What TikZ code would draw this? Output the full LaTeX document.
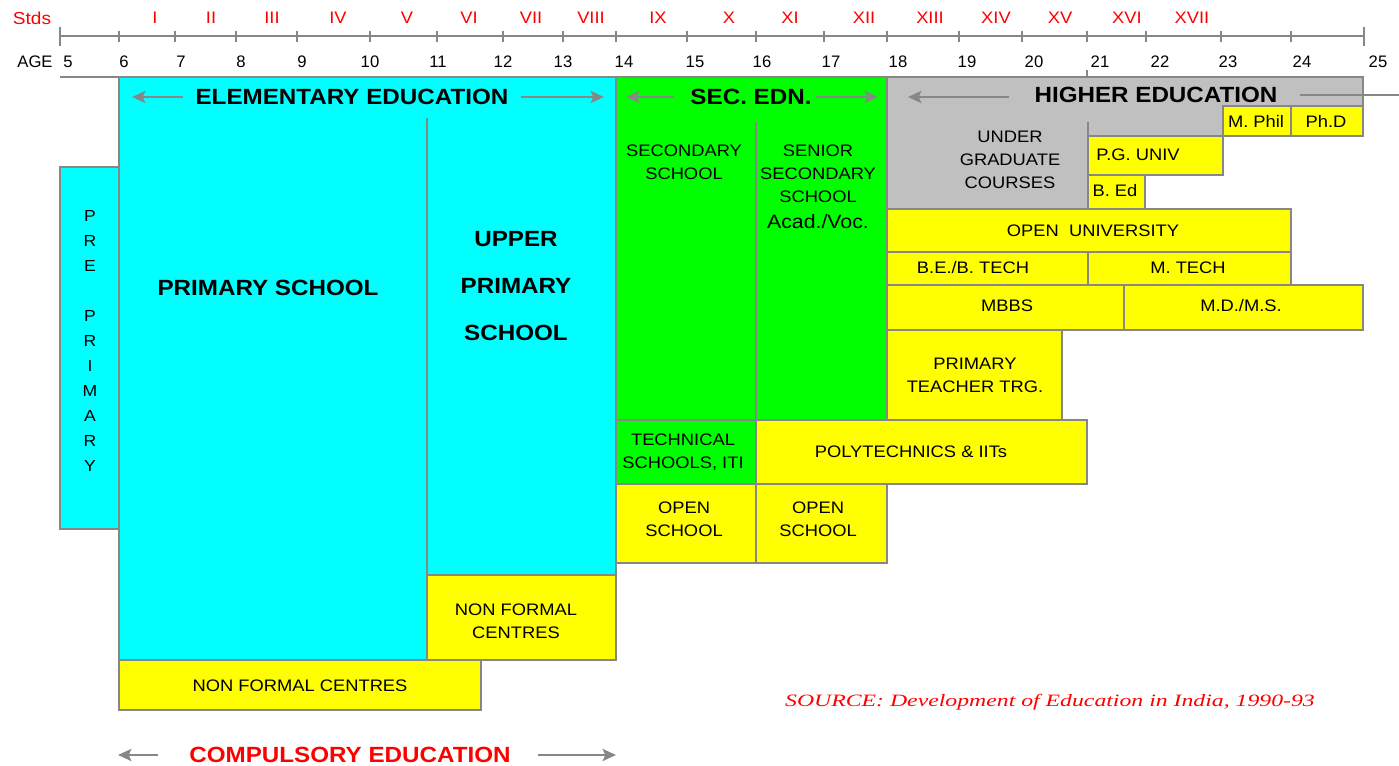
\documentclass[tikz,border=0pt]{standalone}
\usepackage{fontspec}
\setmainfont{Liberation Sans}
\newfontfamily\rf[FakeStretch=1.1]{Liberation Sans}
\newfontfamily\srcfont[FakeStretch=1.37]{Liberation Serif}
\usetikzlibrary{arrows.meta}
\definecolor{cy}{HTML}{00FFFF}
\definecolor{gr}{HTML}{00FF00}
\definecolor{ye}{HTML}{FFFF00}
\definecolor{lg}{HTML}{C0C0C0}
\definecolor{bord}{HTML}{878787}
\definecolor{rd}{HTML}{FF0000}
\tikzset{
  edge/.style={draw=bord, line width=1.5pt},
  cbox/.style={edge, fill=cy},
  gbox/.style={edge, fill=gr},
  ybox/.style={edge, fill=ye},
  hbox/.style={edge, fill=lg},
  sep/.style={draw=bord, line width=1.5pt},
  txt/.style={font=\rf\fontsize{12.5}{17.25}\selectfont, align=center, inner sep=0pt},
  hdr/.style={font=\rf\bfseries\fontsize{16.5}{20}\selectfont, align=center, inner sep=0pt},
  arr/.style={draw=bord, line width=2pt, -{Stealth[length=10pt,width=9pt,inset=2pt]}},
  axis/.style={draw=bord, line width=1.2pt},
  rom/.style={font=\rf\fontsize{12.5}{15}\selectfont, text=rd, inner sep=0pt},
  agelbl/.style={font=\fontsize{12.5}{15}\selectfont, inner sep=0pt},
}
\begin{document}
\begin{tikzpicture}[x=0.75pt,y=-0.75pt]
\useasboundingbox[fill=white] (0,0) rectangle (1399,766);

% ---------- boxes ----------
\filldraw[cbox] (60,167) rectangle (119,529);
\filldraw[cbox] (119,77) rectangle (616,660);
\filldraw[ybox] (427,575) rectangle (616,660);
\draw[sep] (427,118) -- (427,575);
\filldraw[ybox] (119,660) rectangle (481,710);

\filldraw[gbox] (616,77) rectangle (887,420);
\draw[sep] (756,122) -- (756,420);
\filldraw[gbox] (616,420) rectangle (756,484);
\filldraw[ybox] (756,420) rectangle (1087,484);
\filldraw[ybox] (616,484) rectangle (756,563);
\filldraw[ybox] (756,484) rectangle (887,563);

\filldraw[hbox] (887,77) -- (1363,77) -- (1363,106) -- (1223,106) -- (1223,136)
   -- (1088,136) -- (1088,209) -- (887,209) -- cycle;
\draw[sep] (1088,122) -- (1088,136);
\filldraw[ybox] (1223,106) rectangle (1291,136);
\filldraw[ybox] (1291,106) rectangle (1363,136);
\filldraw[ybox] (1088,136) rectangle (1223,175);
\filldraw[ybox] (1088,175) rectangle (1145,209);
\filldraw[ybox] (887,209) rectangle (1291,252);
\filldraw[ybox] (887,252) rectangle (1088,285);
\filldraw[ybox] (1088,252) rectangle (1291,285);
\filldraw[ybox] (887,285) rectangle (1124,330);
\filldraw[ybox] (1124,285) rectangle (1363,330);
\filldraw[ybox] (887,330) rectangle (1062,420);

% ---------- axes ----------
\draw[axis] (60,36) -- (1364,36);
\draw[axis] (60,77) -- (1363,77);
\draw[axis] (1087,70) -- (1087,77);
\foreach \t in {119,175,236,297,370,437,503,563,616,687,756,824,887,959,1022,1087,1146,1221,1291}
  \draw[axis] (\t,31) -- (\t,42);
\draw[axis] (60,27) -- (60,46);
\draw[axis] (1364,27) -- (1364,46);

\node[rom, font=\rf\fontsize{13}{15}\selectfont] (stds) at (32,18) {Stds};
\foreach \r/\x [count=\k] in {I/155,II/211,III/272,IV/338,V/407,VI/469,VII/531,VIII/591,IX/658,X/729,XI/790,XII/864,XIII/930,XIV/996,XV/1060,XVI/1127,XVII/1192}
  \node[rom] (std\k) at (\x,18) {\r};
\node[agelbl] (age) at (35,62) {AGE};
\foreach \a/\x in {5/68,6/124,7/181,8/241,9/302,10/370,11/438,12/503,13/563,14/624,15/695,16/762,17/831,18/898,19/967,20/1034,21/1100,22/1160,23/1228,24/1302,25/1378}
  \node[agelbl] (age\a) at (\x,62) {\a};

% ---------- headers and arrows ----------
\node[hdr] (elem) at (352,97) {ELEMENTARY EDUCATION};
\coordinate (elemL) at (132,97);
\coordinate (elemR) at (604,97);
\draw[arr] ([xshift=-9]elem.west) -- (elemL);
\draw[arr] ([xshift=9]elem.east) -- (elemR);

\node[hdr] (sec) at (751,97) {SEC. EDN.};
\coordinate (secL) at (626,97);
\coordinate (secR) at (878,97);
\draw[arr] ([xshift=-12]sec.west) -- (secL);
\draw[arr] ([xshift=3]sec.east) -- (secR);

\node[hdr] (high) at (1156,95) {HIGHER EDUCATION};
\coordinate (highL) at (908,97);
\coordinate (highR) at (1399,95);
\draw[arr] ([xshift=-19,yshift=-1.5]high.west) -- (highL);
\draw[draw=bord, line width=2pt] ([xshift=17]high.east) -- (highR);

\node[hdr, text=rd] (comp) at (350,755) {COMPULSORY EDUCATION};
\coordinate (compL) at (118,755);
\coordinate (compR) at (616,755);
\draw[arr] ([xshift=-23]comp.west) -- (compL);
\draw[arr] ([xshift=20]comp.east) -- (compR);

% ---------- texts ----------
\node[txt, font=\rf\fontsize{12}{18.75}\selectfont] (pre) at (90,341) {P\\R\\E\\ \\P\\R\\I\\M\\A\\R\\Y};
\node[hdr] (ps) at (268,288) {PRIMARY SCHOOL};
\node[hdr, font=\rf\bfseries\fontsize{16.5}{35}\selectfont] (ups) at (516,286) {UPPER\\PRIMARY\\SCHOOL};
\node[txt] (nfc1) at (516,621) {NON FORMAL\\CENTRES};
\node[txt] (nfc2) at (300,686) {NON FORMAL CENTRES};

\node[txt] (ss) at (684,162) {SECONDARY\\SCHOOL};
\node[txt] (sss) at (818,174) {SENIOR\\SECONDARY\\SCHOOL};
\node[txt, font=\rf\fontsize{14.5}{17}\selectfont] (acad) at (818,222) {Acad./Voc.};
\node[txt] (tech) at (683,452) {TECHNICAL\\SCHOOLS, ITI};
\node[txt] (poly) at (911,452) {POLYTECHNICS \& IITs};
\node[txt] (os1) at (684,519) {OPEN\\SCHOOL};
\node[txt] (os2) at (818,519) {OPEN\\SCHOOL};

\node[txt] (ug) at (1010,160) {UNDER\\GRADUATE\\COURSES};
\node[txt] (mphil) at (1256,121) {M. Phil};
\node[txt] (phd) at (1326,121) {Ph.D};
\node[txt] (pg) at (1138,155) {P.G. UNIV};
\node[txt] (bed) at (1115,191) {B. Ed};
\node[txt] (ou) at (1093,231) {OPEN\ \ UNIVERSITY};
\node[txt] (bt) at (973,268) {B.E./B. TECH};
\node[txt] (mt) at (1188,268) {M. TECH};
\node[txt] (mbbs) at (1007,306) {MBBS};
\node[txt] (md) at (1241,306) {M.D./M.S.};
\node[txt] (ptt) at (975,375) {PRIMARY\\TEACHER TRG.};

\node[font=\srcfont\itshape\fontsize{13}{15}\selectfont, text=rd, inner sep=0pt] (src) at (1050,702) {SOURCE: Development of Education in India, 1990-93};
\end{tikzpicture}
\end{document}
